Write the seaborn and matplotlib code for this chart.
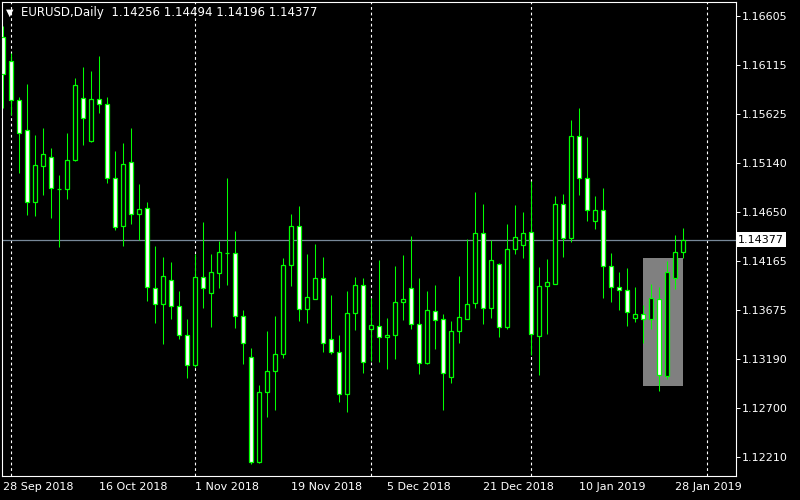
import matplotlib
matplotlib.use("Agg")
import matplotlib.pyplot as plt
import matplotlib.patches as mpatches
import numpy as np
import pandas as pd
import seaborn as sns

# EURUSD daily candles, 28 Sep 2018 .. 29 Jan 2019
opens = [1.16396, 1.16157, 1.15768, 1.15469, 1.14751, 1.15110, 1.15200, 1.14881, 1.14881, 1.15170,
         1.15788, 1.15359, 1.15778, 1.15728, 1.14990, 1.14512, 1.15150, 1.14631, 1.14691, 1.13894,
         1.13734, 1.13973, 1.13714, 1.13425, 1.13126, 1.14003, 1.13844, 1.14043, 1.14243, 1.14243,
         1.13614, 1.13206, 1.12159, 1.12857, 1.13066, 1.13236, 1.14123, 1.14512, 1.13684, 1.13784,
         1.13993, 1.13385, 1.13256, 1.12837, 1.13644, 1.13924, 1.13485, 1.13515, 1.13405, 1.13425,
         1.13754, 1.13894, 1.13535, 1.13146, 1.13664, 1.13585, 1.13006, 1.13465, 1.13585, 1.13744,
         1.14442, 1.13694, 1.14133, 1.13505, 1.14282, 1.14322, 1.14452, 1.13415, 1.13914, 1.13934,
         1.14731, 1.14392, 1.15409, 1.14990, 1.14562, 1.14671, 1.14113, 1.13904, 1.13874, 1.13595,
         1.13634, 1.13585, 1.13784, 1.13016, 1.13993, 1.14256]
highs = [1.16506, 1.16237, 1.15798, 1.15928, 1.15419, 1.15489, 1.15289, 1.15020, 1.15439, 1.15987,
         1.16097, 1.16057, 1.16207, 1.15798, 1.15260, 1.15339, 1.15489, 1.14931, 1.14751, 1.14312,
         1.14203, 1.14153, 1.13864, 1.13585, 1.14233, 1.14552, 1.14233, 1.14362, 1.14990, 1.14462,
         1.13674, 1.13295, 1.12927, 1.13465, 1.13614, 1.14193, 1.14631, 1.14711, 1.14233, 1.14332,
         1.14203, 1.13824, 1.13425, 1.13864, 1.14003, 1.13993, 1.13794, 1.14173, 1.13595, 1.14113,
         1.14223, 1.14412, 1.13993, 1.13864, 1.13924, 1.13634, 1.13565, 1.14013, 1.14382, 1.14851,
         1.14731, 1.14372, 1.14143, 1.14532, 1.14721, 1.14651, 1.14960, 1.14103, 1.14183, 1.14811,
         1.14831, 1.15569, 1.15688, 1.15399, 1.14811, 1.14891, 1.14243, 1.14053, 1.14093, 1.13904,
         1.13724, 1.13934, 1.13904, 1.14163, 1.14422, 1.14494]
lows = [1.15688, 1.15618, 1.15040, 1.14621, 1.14611, 1.14821, 1.14592, 1.14302, 1.14781, 1.15160,
        1.15319, 1.15349, 1.15638, 1.14940, 1.14472, 1.14312, 1.14532, 1.14372, 1.13764, 1.13545,
        1.13335, 1.13585, 1.13385, 1.12996, 1.13106, 1.13694, 1.13505, 1.13894, 1.13924, 1.13495,
        1.13136, 1.12139, 1.12149, 1.12608, 1.12677, 1.13196, 1.13914, 1.13565, 1.13545, 1.13784,
        1.13256, 1.13236, 1.12757, 1.12657, 1.13475, 1.13046, 1.13166, 1.13156, 1.13086, 1.13186,
        1.13575, 1.13485, 1.13036, 1.13136, 1.13285, 1.12677, 1.12946, 1.13345, 1.13585, 1.13694,
        1.13535, 1.13595, 1.13405, 1.13485, 1.14233, 1.14193, 1.13226, 1.13026, 1.13435, 1.13934,
        1.14203, 1.14352, 1.14821, 1.14562, 1.14482, 1.13794, 1.13754, 1.13674, 1.13515, 1.13555,
        1.13345, 1.13485, 1.12867, 1.12986, 1.13884, 1.14196]
closes = [1.16027, 1.15768, 1.15439, 1.14751, 1.15120, 1.15230, 1.14891, 1.14881, 1.15170, 1.15918,
          1.15589, 1.15778, 1.15728, 1.14990, 1.14502, 1.15130, 1.14631, 1.14681, 1.13904, 1.13734,
          1.14013, 1.13714, 1.13425, 1.13126, 1.14003, 1.13894, 1.14053, 1.14253, 1.14243, 1.13614,
          1.13345, 1.12159, 1.12857, 1.13066, 1.13236, 1.14123, 1.14512, 1.13684, 1.13804, 1.13993,
          1.13345, 1.13256, 1.12837, 1.13644, 1.13924, 1.13156, 1.13525, 1.13405, 1.13425, 1.13754,
          1.13784, 1.13535, 1.13146, 1.13674, 1.13575, 1.13046, 1.13465, 1.13605, 1.13734, 1.14442,
          1.13694, 1.14173, 1.13505, 1.14282, 1.14402, 1.14442, 1.13435, 1.13914, 1.13953, 1.14731,
          1.14392, 1.15409, 1.14990, 1.14671, 1.14671, 1.14113, 1.13904, 1.13874, 1.13654, 1.13634,
          1.13585, 1.13794, 1.13026, 1.14053, 1.14253, 1.14377]

date_labels = ["28 Sep 2018", "16 Oct 2018", "1 Nov 2018", "19 Nov 2018",
               "5 Dec 2018", "21 Dec 2018", "10 Jan 2019", "28 Jan 2019"]
date_bars = [0, 12, 24, 36, 48, 60, 72, 84]
month_start_bars = [1, 24, 46, 66, 88]
price_ticks = [1.16605, 1.16115, 1.15625, 1.15140, 1.14650,
               1.14165, 1.13675, 1.13190, 1.12700, 1.12210]
box_bars = [80, 85]
box_prices = [1.12917, 1.14193]
symbol = "EURUSD,Daily"

LIME = "#00ff00"

sns.set_style("dark", {"axes.facecolor": "black", "figure.facecolor": "black",
                       "axes.edgecolor": "white", "text.color": "white",
                       "xtick.color": "white", "ytick.color": "white",
                       "axes.grid": False})
plt.rcParams["font.family"] = ["DejaVu Sans"]

df = pd.DataFrame({"open": opens, "high": highs, "low": lows, "close": closes})
df["bar"] = np.arange(len(df))
df["bull"] = df["close"] >= df["open"]

fig = plt.figure(figsize=(8, 5), dpi=100, facecolor="black")
ax = fig.add_axes([2 / 800, 24 / 500, 734 / 800, 474 / 500])
ax.set_facecolor("black")

# drawn rectangle object
ax.add_patch(mpatches.Rectangle((box_bars[0], box_prices[0]), box_bars[1] - box_bars[0],
                                box_prices[1] - box_prices[0], facecolor="#808080",
                                edgecolor="none", zorder=1))

# period separators
for b in month_start_bars:
    ax.axvline(b, color="white", lw=0.8, ls=(0, (2.5, 2.5)), zorder=1.5)

# bid line
last = df["close"].iloc[-1]
ax.axhline(last, color="#778899", lw=0.9, zorder=1.8)

# wicks + bodies
ax.vlines(df["bar"], df["low"], df["high"], color=LIME, lw=0.75, zorder=2)
body_lo = df[["open", "close"]].min(axis=1)
body_h = (df["close"] - df["open"]).abs()
fills = np.where(df["bull"], "black", "white")
ax.bar(df["bar"], body_h, bottom=body_lo, width=0.55, color=fills,
       edgecolor=LIME, linewidth=0.9, zorder=3)

ax.set_xlim(-0.125, 91.625)
ax.set_ylim(1.12019, 1.16745)

ax.yaxis.tick_right()
ax.set_yticks(price_ticks, [f"{p:.5f}" for p in price_ticks])
ax.set_xticks(date_bars, date_labels)
for lbl in ax.get_xticklabels():
    lbl.set_ha("left")
ax.tick_params(axis="both", direction="out", length=3, width=0.7, colors="white",
               labelsize=8, pad=1.5)
for s in ax.spines.values():
    s.set_color("white")
    s.set_linewidth(0.8)
ax.set_xlabel("")
ax.set_ylabel("")

# current price label
ax.text(1.003, last, f"{last:.5f}", transform=ax.get_yaxis_transform(),
        ha="left", va="center", fontsize=8, color="black", clip_on=False,
        bbox=dict(boxstyle="square,pad=0.2", facecolor="white", edgecolor="none"))

# header
ax.text(0.006, 0.978, "\u25bc", transform=ax.transAxes, ha="left", va="center",
        fontsize=7, color="white")
ax.text(0.026, 0.978,
        f"{symbol}  {opens[-1]:.5f} {highs[-1]:.5f} {lows[-1]:.5f} {closes[-1]:.5f}",
        transform=ax.transAxes, ha="left", va="center", fontsize=8.5, color="white")

fig.savefig("out.png", dpi=100, facecolor="black")
